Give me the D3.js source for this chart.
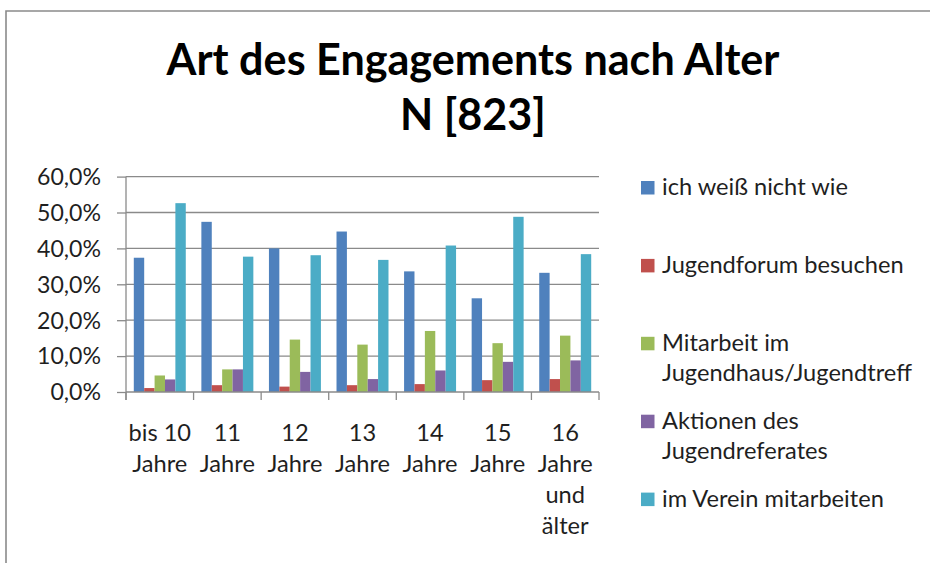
<!DOCTYPE html>
<html>
<head>
<meta charset="utf-8">
<script src="https://cdn.jsdelivr.net/npm/d3@7/dist/d3.min.js"></script>
<style>
  html, body { margin: 0; padding: 0; background: #fff; }
  svg { display: block; }
</style>
</head>
<body>
<svg id="chart" width="930" height="563"></svg>
<script>
// ---------- data ----------
const titleLines = ["Art des Engagements nach Alter", "N [823]"];
const categories = ["bis 10 Jahre", "11 Jahre", "12 Jahre", "13 Jahre", "14 Jahre", "15 Jahre", "16 Jahre und älter"];
const seriesNames = ["ich weiß nicht wie", "Jugendforum besuchen", "Mitarbeit im Jugendhaus/Jugendtreff", "Aktionen des Jugendreferates", "im Verein mitarbeiten"];
const ichWeissNichtWie   = [37.4, 47.4, 40.0, 44.7, 33.6, 26.1, 33.2];
const jugendforum        = [1.1, 1.9, 1.5, 1.9, 2.2, 3.3, 3.6];
const mitarbeitJugendhaus = [4.6, 6.3, 14.6, 13.2, 17.0, 13.6, 15.7];
const aktionenReferat    = [3.5, 6.3, 5.6, 3.6, 6.0, 8.4, 8.8];
const vereinMitarbeiten  = [52.6, 37.7, 38.1, 36.8, 40.8, 48.8, 38.4];
const yTicks = [0, 10, 20, 30, 40, 50, 60];
const colors = ["#4F81BD", "#C0504D", "#9BBB59", "#8064A2", "#4BACC6"];

const seriesValues = [ichWeissNichtWie, jugendforum, mitarbeitJugendhaus, aktionenReferat, vereinMitarbeiten];

// ---------- setup ----------
const svg = d3.select("#chart");
const FONT = "Lato, 'Open Sans', sans-serif";
const textColor = "#1f1f1f";
const lineColor = "#8a8a8a";

function fitSize(text, weight, target) {
  const t = svg.append("text").attr("font-family", FONT).attr("font-weight", weight)
    .attr("font-size", 100).text(text);
  const w = t.node().getComputedTextLength();
  t.remove();
  return 100 * target / w;
}

const titleSize = fitSize(titleLines[0], "bold", 613);
const yLabelSize = fitSize("60,0%", "normal", 64);
const labelSize = fitSize(seriesNames[0], "normal", 186);

function measure(text, size) {
  const t = svg.append("text").attr("font-family", FONT).attr("font-size", size).text(text);
  const w = t.node().getComputedTextLength();
  t.remove();
  return w;
}
function wrap(text, size, maxW) {
  const words = text.split(" ");
  const lines = [];
  let cur = "";
  words.forEach(w => {
    const cand = cur ? cur + " " + w : w;
    if (!cur || measure(cand, size) <= maxW) cur = cand;
    else { lines.push(cur); cur = w; }
  });
  if (cur) lines.push(cur);
  return lines;
}

// frame
svg.append("path")
  .attr("d", "M6,570 L6,11 L935,11")
  .attr("fill", "none").attr("stroke", lineColor).attr("stroke-width", 1.6);

// title
svg.append("g").selectAll("text").data(titleLines).join("text")
  .attr("x", 473).attr("y", (d, i) => 75 + i * 55)
  .attr("text-anchor", "middle")
  .attr("font-family", FONT).attr("font-weight", "bold")
  .attr("font-size", titleSize).attr("fill", "#000")
  .text(d => d);

// scales
const plot = { left: 126, right: 599, top: 176.6, bottom: 392 };
const x0 = d3.scaleBand().domain(categories).range([plot.left, plot.right]).padding(0);
const x1 = d3.scaleBand().domain(d3.range(seriesNames.length))
  .range([0, x0.bandwidth()]).paddingInner(0).paddingOuter(0.75);
const y = d3.scaleLinear().domain([0, 60]).range([plot.bottom, plot.top]);

const deLocale = d3.formatLocale({ decimal: ",", thousands: ".", grouping: [3], currency: ["", "€"] });
const pct = v => deLocale.format(".1f")(v) + "%";

// gridlines
svg.append("g").selectAll("line").data(yTicks.filter(d => d > 0)).join("line")
  .attr("x1", plot.left).attr("x2", plot.right)
  .attr("y1", d => y(d)).attr("y2", d => y(d))
  .attr("stroke", lineColor).attr("stroke-width", 1.3);

// y axis
const yAxis = svg.append("g").attr("transform", `translate(${plot.left},0)`)
  .call(d3.axisLeft(y).tickValues(yTicks).tickSize(9).tickPadding(16).tickFormat(pct));
yAxis.select(".domain").remove();
yAxis.selectAll(".tick line").attr("stroke", lineColor).attr("stroke-width", 1.3);
yAxis.selectAll(".tick text").attr("font-family", FONT).attr("font-size", yLabelSize)
  .attr("fill", textColor).attr("dy", "0.34em");
svg.append("line").attr("x1", plot.left).attr("x2", plot.left)
  .attr("y1", plot.top).attr("y2", plot.bottom + 8)
  .attr("stroke", lineColor).attr("stroke-width", 1.3);

// bars
const groups = svg.append("g").selectAll("g").data(categories).join("g")
  .attr("transform", d => `translate(${x0(d)},0)`);
groups.selectAll("rect")
  .data((c, ci) => seriesValues.map((vals, si) => ({ si, v: vals[ci] })))
  .join("rect")
  .attr("x", d => x1(d.si)).attr("width", x1.bandwidth())
  .attr("y", d => y(d.v)).attr("height", d => y(0) - y(d.v))
  .attr("fill", d => colors[d.si]);

// x axis
svg.append("line").attr("x1", plot.left).attr("x2", plot.right)
  .attr("y1", plot.bottom).attr("y2", plot.bottom)
  .attr("stroke", lineColor).attr("stroke-width", 1.3);
const edges = categories.map(c => x0(c)).concat([x0.range()[1]]);
svg.append("g").selectAll("line").data(edges).join("line")
  .attr("x1", d => d).attr("x2", d => d)
  .attr("y1", plot.bottom).attr("y2", plot.bottom + 8)
  .attr("stroke", lineColor).attr("stroke-width", 1.3);

svg.append("g").selectAll("text").data(categories).join("text")
  .attr("text-anchor", "middle")
  .attr("font-family", FONT).attr("font-size", labelSize).attr("fill", textColor)
  .attr("transform", d => `translate(${x0(d) + x0.bandwidth() / 2},440.5)`)
  .each(function (d) {
    const lines = wrap(d, labelSize, x0.bandwidth() + 2);
    d3.select(this).selectAll("tspan").data(lines).join("tspan")
      .attr("x", 0).attr("y", (l, i) => i * 31.3).text(l => l);
  });

// legend
const legend = svg.append("g").selectAll("g").data(seriesNames).join("g")
  .attr("transform", (d, i) => `translate(641,${195 + i * 77.9})`);
legend.append("rect")
  .attr("x", 0).attr("y", -14).attr("width", 13.5).attr("height", 13.5)
  .attr("fill", (d, i) => colors[i]);
legend.append("text")
  .attr("font-family", FONT).attr("font-size", labelSize).attr("fill", textColor)
  .each(function (d) {
    const lines = wrap(d, labelSize, 258);
    d3.select(this).selectAll("tspan").data(lines).join("tspan")
      .attr("x", 21).attr("y", (l, i) => i * 30).text(l => l);
  });
</script>
</body>
</html>
